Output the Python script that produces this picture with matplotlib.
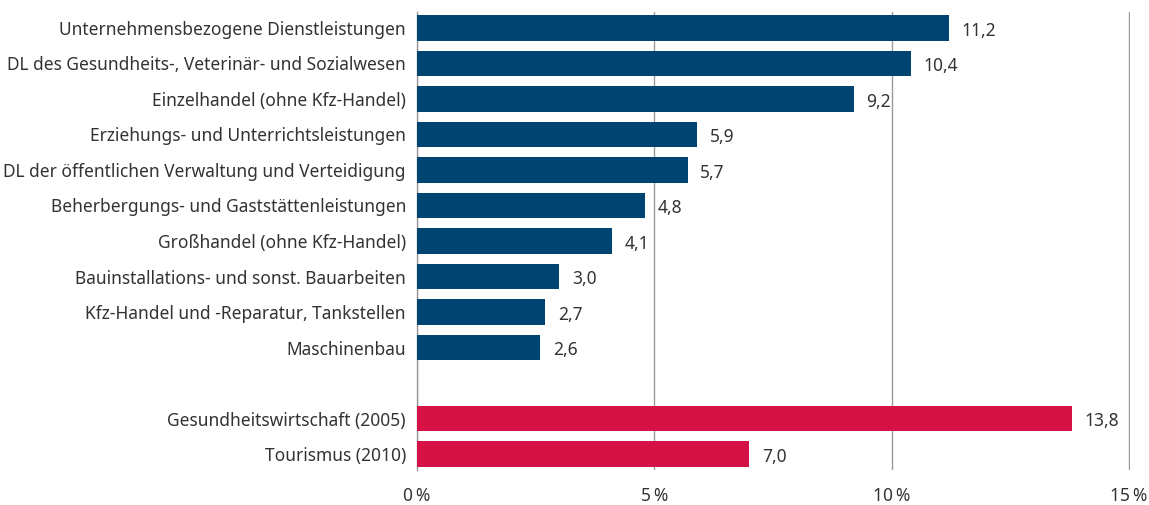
import numpy as np
import matplotlib.pyplot as plt

# DATA
categories = ["Unternehmensbezogene Dienstleistungen",
              "DL des Gesundheits-, Veterinär- und Sozialwesen",
              "Einzelhandel (ohne Kfz-Handel)",
              "Erziehungs- und Unterrichtsleistungen",
              "DL der öffentlichen Verwaltung und Verteidigung",
              "Beherbergungs- und Gaststättenleistungen",
              "Großhandel (ohne Kfz-Handel)",
              "Bauinstallations- und sonst. Bauarbeiten",
              "Kfz-Handel und -Reparatur, Tankstellen",
              "Maschinenbau"]
values = [11.2, 10.4, 9.2, 5.9, 5.7, 4.8, 4.1, 3.0, 2.7, 2.6]
special_categories = ["Gesundheitswirtschaft (2005)", "Tourismus (2010)"]
special_values = [13.8, 7.0]
xticks = [0, 5, 10, 15]
xtick_labels = ["0\u2009%", "5\u2009%", "10\u2009%", "15\u2009%"]

plt.rcParams['font.family'] = ['Noto Sans', 'DejaVu Sans']

fig = plt.figure(figsize=(11.49, 5.05), dpi=100)
ax = fig.add_axes([417/1149, 1 - 470/505, (1129 - 417)/1149 * 15.02/15, 458/505])

pos = list(range(len(categories)))
pos_special = [len(categories) + 1 + i for i in range(len(special_categories))]

ax.barh(pos, values, height=0.72, color="#004472", zorder=3)
ax.barh(pos_special, special_values, height=0.72, color="#D51245", zorder=3)

for p, v in zip(pos + pos_special, values + special_values):
    ax.text(v + 0.27, p + 0.08, f"{v:.1f}".replace(".", ","), va="center", ha="left",
            fontsize=12.5, color="#333333")

ax.set_yticks(pos + pos_special)
ax.set_yticklabels(categories + special_categories, fontsize=12.5, color="#333333")
ax.set_ylim(12.45, -0.45)
ax.set_xlim(0, 15.02)
ax.set_xticks(xticks)
ax.set_xticklabels(xtick_labels, fontsize=12.5, color="#333333")
ax.tick_params(axis="x", length=0, pad=12)
ax.tick_params(axis="y", length=0, pad=8)
ax.xaxis.grid(True, color="#9a9a9a", linewidth=1, zorder=0)

for s in ["top", "right", "bottom"]:
    ax.spines[s].set_visible(False)
ax.spines["left"].set_color("#9a9a9a")
ax.spines["left"].set_linewidth(1)

fig.savefig("out.png", dpi=100)
